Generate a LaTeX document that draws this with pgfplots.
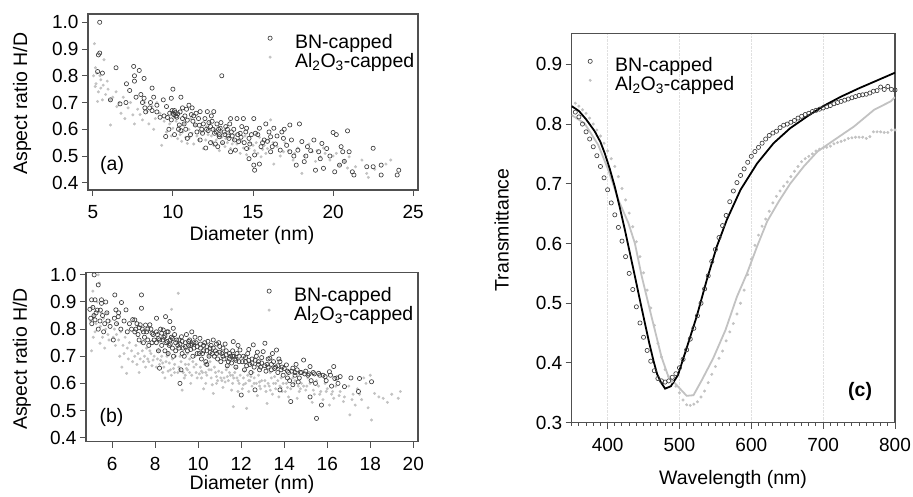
\documentclass[border=0pt]{standalone}
\usepackage{fontspec}
\setmainfont{Liberation Sans}
\usepackage{pgfplots}
\pgfplotsset{compat=1.18}

\definecolor{bnDark}{HTML}{3C3C3C}
\definecolor{alGray}{HTML}{C2C2C2}
\definecolor{frameGray}{HTML}{505050}

\pgfplotsset{
  panel/.style={
    scale only axis,
    anchor=south west,
    axis line style={frameGray, line width=1.1pt},
    tick align=outside,
    tick pos=left,
    major tick length=6pt,
    minor tick length=3pt,
    tick style={frameGray, line width=1pt},
    /pgf/number format/assume math mode=true,
    tick label style={font=\fontsize{19}{21}\selectfont},
    xticklabel style={yshift=-6pt},
    label style={font=\fontsize{19.5}{22}\selectfont},
    legend style={draw=none, fill=none, inner sep=0pt, row sep=2pt,
      font=\fontsize{19.5}{22}\selectfont,
      nodes={inner sep=0pt, text height=12.5pt, text depth=4.5pt}},
    legend cell align=left,
    legend image code/.code={
      \path[draw=none, fill=none] (0pt,0pt) -- (31pt,0pt);
      \draw[mark repeat=1,mark phase=1,##1] plot coordinates {(6pt,6pt)};},
  },
  ydec/.style={yticklabel style={/pgf/number format/.cd, fixed, fixed zerofill, precision=1}},
  bn/.style={only marks, mark=o, mark size=2.1pt, draw=bnDark, mark options={line width=0.65pt}},
  al/.style={only marks, mark=*, mark size=1.3pt, draw=alGray, fill=alGray},
}

\begin{document}
\begin{tikzpicture}
\useasboundingbox (0pt,0pt) rectangle (913pt,497pt);

% ---------------- (a) ----------------
\begin{axis}[panel, ydec, reverse legend,
  at={(88pt,307pt)}, width=330pt, height=176pt,
  xmin=4.7, xmax=25.3, ymin=0.373, ymax=1.031,
  xtick={5,10,15,20,25}, ytick={0.4,0.5,0.6,0.7,0.8,0.9,1.0},
  xlabel={Diameter (nm)}, ylabel={Aspect ratio H/D},
  xlabel style={at={(axis description cs:0.497,-0.256)}, anchor=center},
  ylabel style={at={(axis description cs:-0.2,0.49)}, anchor=center},
  legend style={at={(axis description cs:0.533,0.878)}, anchor=north west},
]
\addplot[al] coordinates {
(5.10,0.92) (5.17,0.83) (5.25,0.81) (5.50,0.785) (5.15,0.76) (5.50,0.754) (5.90,0.78) (5.60,0.71)
(5.30,0.704) (6.10,0.71) (6.45,0.74) (5.70,0.86) (5.05,0.80) (5.35,0.74) (5.80,0.73) (5.20,0.77)
(5.45,0.80) (5.95,0.75) (6.25,0.72) (5.65,0.765)
(6.65,0.70) (6.76,0.66) (7.20,0.68) (6.10,0.616) (7.50,0.654) (8.10,0.635) (8.40,0.666) (8.70,0.685)
(9.20,0.66) (9.30,0.54) (6.90,0.72) (7.35,0.70) (7.80,0.675) (8.25,0.70) (8.90,0.64) (7.00,0.64)
(7.60,0.62) (8.50,0.62) (9.00,0.70) (7.95,0.655) (6.50,0.685) (8.80,0.60) (9.45,0.63) (9.60,0.59)
(10.00,0.604) (10.60,0.59) (10.90,0.547) (11.20,0.585) (11.60,0.56) (11.90,0.528) (10.20,0.63) (10.40,0.61)
(9.80,0.62) (10.70,0.62) (11.00,0.60) (11.40,0.615) (11.80,0.59) (12.20,0.58) (10.30,0.565) (10.10,0.645)
(11.10,0.64) (11.50,0.575) (12.10,0.61) (9.90,0.575) (10.55,0.555) (11.30,0.545)
(10.45,0.58) (10.80,0.57) (11.05,0.57) (11.65,0.595) (12.05,0.56) (12.40,0.575) (12.55,0.54) (13.05,0.57)
(13.40,0.55) (13.70,0.545) (14.10,0.56) (14.40,0.53) (15.00,0.54) (15.30,0.51) (15.60,0.525)
(12.45,0.554) (13.10,0.547) (13.60,0.528) (12.60,0.60) (12.80,0.575) (13.00,0.59) (13.30,0.565) (13.80,0.56)
(12.30,0.625) (12.90,0.52) (13.50,0.59) (14.00,0.545) (14.20,0.51) (14.50,0.575) (14.75,0.528) (14.30,0.555)
(13.90,0.58) (14.80,0.55) (12.70,0.56) (13.25,0.535) (14.60,0.505)
(15.50,0.497) (15.90,0.528) (16.30,0.47) (16.10,0.635) (16.90,0.516) (15.20,0.55) (15.40,0.57) (15.70,0.54)
(16.00,0.56) (16.50,0.535) (17.00,0.55) (15.10,0.52) (16.70,0.50) (15.80,0.51) (16.25,0.55) (17.20,0.52)
(17.50,0.485) (18.05,0.435) (18.70,0.516) (19.20,0.497) (19.80,0.485) (17.80,0.53) (18.20,0.50) (18.50,0.545)
(19.00,0.52) (19.50,0.51) (17.60,0.51) (18.90,0.48) (19.40,0.53) (20.00,0.50)
(20.40,0.466) (21.00,0.497) (21.80,0.485) (22.10,0.435) (22.20,0.42) (23.30,0.47) (23.60,0.485) (20.20,0.51)
(20.70,0.48) (21.40,0.46) (20.90,0.455) (22.60,0.45)
};
\addplot[bn] coordinates {
(5.43,1.00) (5.43,0.885) (5.35,0.878) (5.30,0.816) (5.60,0.81) (6.45,0.83) (6.10,0.71) (6.70,0.695)
(7.07,0.70) (7.10,0.77) (7.55,0.835) (7.90,0.82) (7.60,0.80) (8.20,0.79) (7.60,0.78) (8.70,0.754)
(7.70,0.72) (8.20,0.716) (8.80,0.72) (8.10,0.70) (8.55,0.68) (9.00,0.69) (8.30,0.665) (8.70,0.67)
(9.00,0.665) (7.30,0.745) (8.00,0.73) (8.60,0.70) (8.25,0.68)
(9.40,0.71) (9.90,0.716) (10.00,0.75) (10.50,0.72) (9.60,0.685) (10.10,0.67) (10.20,0.65) (9.66,0.644)
(9.90,0.635) (9.20,0.645) (10.40,0.616) (10.90,0.634) (9.55,0.573) (10.10,0.58) (10.90,0.566) (10.00,0.66)
(10.05,0.655) (10.15,0.662) (10.25,0.645) (10.30,0.658) (9.80,0.66) (10.60,0.64) (10.70,0.62) (9.45,0.65)
(10.35,0.60) (10.80,0.60) (10.50,0.595) (9.75,0.60) (10.60,0.68) (10.85,0.675)
(9.95,0.67) (10.45,0.665) (10.75,0.65) (11.15,0.655) (11.45,0.66) (11.65,0.615) (12.10,0.60) (12.25,0.625)
(12.50,0.60) (12.70,0.59) (12.90,0.58) (13.00,0.625) (13.25,0.58) (13.45,0.575) (13.65,0.59) (13.85,0.56)
(14.05,0.58) (14.25,0.57) (14.55,0.59) (14.80,0.545) (15.30,0.58) (15.90,0.555) (16.20,0.535)
(11.00,0.69) (11.20,0.68) (11.70,0.666) (12.15,0.666) (12.55,0.666) (11.40,0.616) (11.90,0.62) (12.35,0.61)
(11.70,0.56) (12.35,0.55) (12.90,0.572) (12.05,0.53) (12.80,0.535) (12.95,0.604) (13.05,0.80) (11.30,0.65)
(11.60,0.64) (11.80,0.60) (12.00,0.64) (12.20,0.595) (12.45,0.63) (12.60,0.585) (12.75,0.62) (11.50,0.59)
(11.10,0.58) (12.40,0.65) (12.85,0.60) (11.85,0.585) (12.65,0.545) (11.25,0.63)
(13.30,0.61) (13.60,0.64) (14.00,0.64) (14.40,0.64) (13.80,0.60) (14.60,0.604) (13.50,0.566) (14.10,0.554)
(14.75,0.566) (13.60,0.516) (13.90,0.522) (14.60,0.528) (14.75,0.49) (13.20,0.59) (13.40,0.60) (13.70,0.575)
(14.20,0.585) (14.45,0.55) (13.10,0.55) (14.90,0.58) (13.55,0.62) (14.30,0.61)
(15.05,0.64) (15.40,0.604) (15.80,0.62) (16.30,0.604) (15.15,0.585) (15.70,0.56) (16.10,0.572) (16.80,0.59)
(16.90,0.566) (15.10,0.504) (15.50,0.535) (16.10,0.516) (16.70,0.522) (15.05,0.466) (15.40,0.47) (15.10,0.447)
(15.60,0.55) (16.40,0.545) (16.00,0.59) (16.50,0.575) (16.95,0.60)
(17.30,0.616) (17.40,0.56) (18.05,0.554) (18.80,0.56) (17.30,0.516) (17.80,0.522) (18.40,0.535) (17.70,0.466)
(18.20,0.479) (18.90,0.447) (17.10,0.54) (17.90,0.62) (18.60,0.52) (17.55,0.50) (18.30,0.50)
(19.30,0.547) (20.00,0.588) (20.20,0.58) (20.90,0.594) (19.10,0.516) (19.60,0.528) (20.50,0.535) (20.60,0.516)
(21.00,0.516) (19.40,0.454) (20.10,0.441) (20.40,0.466) (21.20,0.441) (21.30,0.429) (22.10,0.46) (22.50,0.46)
(22.50,0.529) (23.00,0.466) (23.00,0.429) (24.00,0.429) (24.10,0.447) (19.80,0.50) (20.70,0.48) (19.20,0.49)
};
\legend{Al\textsubscript{2}O\textsubscript{3}-capped, BN-capped}
\node[font=\fontsize{19.5}{22}\selectfont] at (axis description cs:0.073,0.142) {(a)};
\end{axis}

% ---------------- (b) ----------------
\begin{axis}[panel, ydec, reverse legend,
  at={(86pt,55.3pt)}, width=332pt, height=169pt,
  xmin=4.78, xmax=20.22, ymin=0.385, ymax=1.008,
  xtick={6,8,10,12,14,16,18,20}, ytick={0.4,0.5,0.6,0.7,0.8,0.9,1.0},
  xlabel={Diameter (nm)}, ylabel={Aspect ratio H/D},
  xlabel style={at={(axis description cs:0.5,-0.255)}, anchor=center},
  ylabel style={at={(axis description cs:-0.193,0.49)}, anchor=center},
  legend style={at={(axis description cs:0.533,0.907)}, anchor=north west},
]
\addplot[al] coordinates {
(5.35,1.00) (5.10,0.94) (5.40,0.97) (5.04,0.72) (5.43,0.748) (5.80,0.78) (5.05,0.88) (5.15,0.85)
(5.25,0.82) (5.30,0.90) (5.50,0.86) (5.60,0.84) (5.70,0.80) (5.90,0.83) (5.20,0.79) (5.45,0.81)
(5.00,0.83) (5.55,0.77) (5.75,0.86) (5.85,0.76) (5.12,0.77) (5.65,0.73)
(6.67,0.637) (6.10,0.80) (6.20,0.78) (6.30,0.76) (6.40,0.79) (6.50,0.74) (6.60,0.77) (6.80,0.75)
(6.90,0.72) (6.15,0.74) (6.35,0.70) (6.55,0.71) (6.75,0.69) (6.25,0.82) (6.95,0.68) (6.45,0.66)
(7.90,0.686) (7.10,0.74) (7.20,0.71) (7.30,0.69) (7.40,0.72) (7.50,0.70) (7.60,0.73) (7.70,0.68)
(7.80,0.71) (7.15,0.67) (7.35,0.75) (7.55,0.66) (7.75,0.72) (7.95,0.70) (7.25,0.64) (7.65,0.69)
(9.07,0.932) (8.76,0.873) (8.10,0.69) (8.20,0.67) (8.30,0.70) (8.40,0.66) (8.50,0.68) (8.60,0.71)
(8.70,0.65) (8.80,0.69) (8.90,0.67) (8.15,0.72) (8.35,0.64) (8.55,0.70) (8.75,0.63) (8.95,0.70)
(8.25,0.685) (8.65,0.675) (8.45,0.62) (8.85,0.655)
(9.10,0.66) (9.20,0.68) (9.30,0.64) (9.40,0.67) (9.50,0.65) (9.60,0.69) (9.70,0.63) (9.80,0.66)
(9.90,0.64) (9.15,0.70) (9.35,0.62) (9.55,0.67) (9.75,0.68) (9.95,0.62) (9.25,0.575) (9.65,0.60)
(9.45,0.655) (9.85,0.70) (9.05,0.64) (9.50,0.71)
(10.70,0.563) (10.10,0.66) (10.20,0.64) (10.30,0.67) (10.40,0.63) (10.50,0.65) (10.60,0.62) (10.80,0.64)
(10.90,0.61) (10.15,0.62) (10.35,0.60) (10.55,0.68) (10.75,0.66) (10.95,0.645) (10.25,0.58) (10.45,0.665)
(10.65,0.595) (10.85,0.625) (10.05,0.635) (10.50,0.70)
(11.63,0.514) (11.10,0.64) (11.20,0.62) (11.30,0.65) (11.40,0.61) (11.50,0.63) (11.60,0.60) (11.70,0.64)
(11.80,0.62) (11.90,0.60) (11.15,0.585) (11.35,0.66) (11.55,0.575) (11.75,0.655) (11.95,0.63) (11.25,0.605)
(11.45,0.64) (11.85,0.57) (11.05,0.62) (11.65,0.62)
(12.25,0.508) (12.10,0.62) (12.20,0.60) (12.30,0.63) (12.40,0.61) (12.50,0.59) (12.60,0.62) (12.70,0.60)
(12.80,0.63) (12.90,0.58) (12.15,0.645) (12.35,0.57) (12.55,0.64) (12.75,0.555) (12.95,0.61) (12.45,0.625)
(12.85,0.605) (12.05,0.58)
(13.20,0.526) (13.10,0.61) (13.30,0.59) (13.40,0.62) (13.50,0.60) (13.60,0.58) (13.70,0.61) (13.80,0.59)
(13.90,0.57) (13.15,0.57) (13.35,0.64) (13.55,0.625) (13.75,0.55) (13.95,0.60) (13.45,0.56) (13.85,0.62)
(13.25,0.60)
(14.10,0.60) (14.30,0.58) (14.50,0.61) (14.70,0.57) (14.90,0.59) (14.20,0.55) (14.40,0.62) (14.60,0.545)
(14.80,0.60) (15.00,0.575) (15.20,0.60) (15.40,0.56) (15.60,0.59) (15.80,0.54) (15.10,0.62) (15.30,0.53)
(15.50,0.61) (15.70,0.57) (15.90,0.60) (14.05,0.57) (14.65,0.59) (16.00,0.58) (16.20,0.56) (16.40,0.59)
(16.10,0.52) (16.30,0.545) (16.60,0.57) (16.80,0.55)
(16.75,0.533) (17.05,0.484) (18.06,0.465) (18.60,0.545) (19.40,0.57) (19.30,0.545) (18.20,0.563) (18.00,0.63)
(17.20,0.56) (17.40,0.58) (17.60,0.54) (17.80,0.60) (17.70,0.62) (18.40,0.55) (17.00,0.59) (17.30,0.52)
(18.80,0.53) (19.00,0.56) (17.90,0.51)
(6.05,0.77) (6.70,0.73) (7.05,0.70) (7.45,0.68) (7.85,0.665) (8.05,0.66) (8.35,0.675) (8.60,0.645)
(8.90,0.64) (9.15,0.65) (9.40,0.63) (9.60,0.64) (9.90,0.67) (10.15,0.645) (10.35,0.64) (10.60,0.65)
(10.85,0.60) (11.10,0.61) (11.35,0.625) (11.60,0.63) (11.85,0.61) (12.10,0.595) (12.35,0.61) (12.60,0.60)
(12.85,0.59) (13.10,0.59) (13.35,0.575) (13.60,0.60) (13.85,0.585) (14.15,0.585) (14.45,0.60) (14.75,0.58)
(15.05,0.59) (15.35,0.575) (15.65,0.56) (15.95,0.57) (16.25,0.57) (16.55,0.555) (17.15,0.54) (17.50,0.56)
};
\addplot[bn] coordinates {
(5.16,1.00) (5.35,0.963) (5.04,0.908) (5.20,0.908) (5.50,0.908) (4.96,0.873) (5.20,0.834) (5.43,0.83)
(5.60,0.79) (5.10,0.88) (5.30,0.87) (5.00,0.84) (5.25,0.86) (5.45,0.87) (5.55,0.85) (5.70,0.90)
(5.80,0.83) (5.90,0.81) (5.05,0.82) (5.35,0.80) (5.65,0.82) (5.15,0.85) (5.50,0.895) (5.75,0.86)
(6.12,0.926) (6.43,0.898) (6.17,0.871) (6.28,0.846) (6.05,0.76) (6.64,0.871) (6.20,0.82) (6.40,0.80)
(6.55,0.83) (6.80,0.82) (6.90,0.80) (6.30,0.86) (6.70,0.79) (6.95,0.835) (6.10,0.84)
(7.36,0.926) (7.36,0.877) (7.05,0.834) (7.30,0.816) (7.75,0.816) (7.60,0.79) (7.90,0.78) (7.10,0.80)
(7.20,0.78) (7.40,0.80) (7.50,0.77) (7.65,0.76) (7.80,0.80) (7.95,0.76) (7.15,0.82) (7.45,0.75)
(7.70,0.74) (7.25,0.76) (7.55,0.815) (7.85,0.75)
(8.06,0.84) (8.48,0.846) (8.37,0.797) (8.68,0.828) (8.84,0.803) (8.20,0.656) (8.10,0.78) (8.20,0.76)
(8.30,0.74) (8.40,0.77) (8.50,0.75) (8.60,0.79) (8.70,0.76) (8.80,0.73) (8.90,0.78) (8.15,0.72)
(8.25,0.80) (8.45,0.72) (8.55,0.79) (8.65,0.74) (8.75,0.77) (8.95,0.75) (8.35,0.76) (8.05,0.75)
(8.85,0.70) (8.60,0.71) (8.95,0.72)
(9.22,0.772) (9.70,0.79) (9.15,0.60) (9.20,0.65) (9.05,0.74) (9.10,0.76) (9.30,0.73) (9.40,0.75)
(9.50,0.72) (9.60,0.76) (9.80,0.73) (9.90,0.75) (9.35,0.70) (9.55,0.74) (9.75,0.70) (9.45,0.78)
(9.85,0.77) (9.25,0.71) (9.65,0.725) (9.95,0.71) (9.15,0.745) (9.70,0.745)
(10.08,0.766) (10.70,0.76) (11.00,0.736) (10.10,0.73) (10.20,0.71) (10.30,0.75) (10.40,0.72) (10.50,0.70)
(10.60,0.74) (10.80,0.72) (10.90,0.69) (10.15,0.69) (10.35,0.68) (10.55,0.73) (10.75,0.70) (10.95,0.75)
(10.25,0.74) (10.45,0.755) (10.65,0.71) (10.85,0.745) (10.05,0.71) (10.40,0.67)
(11.63,0.754) (11.94,0.723) (12.00,0.557) (11.10,0.71) (11.20,0.69) (11.30,0.72) (11.40,0.68) (11.50,0.70)
(11.60,0.72) (11.70,0.69) (11.80,0.71) (11.90,0.68) (11.15,0.73) (11.35,0.665) (11.55,0.675) (11.75,0.66)
(11.85,0.74) (11.25,0.745) (11.45,0.71) (11.05,0.68) (11.65,0.70)
(12.56,0.742) (12.64,0.576) (12.10,0.70) (12.20,0.68) (12.30,0.71) (12.40,0.67) (12.50,0.69) (12.60,0.66)
(12.70,0.70) (12.80,0.68) (12.90,0.66) (12.15,0.65) (12.35,0.725) (12.75,0.715) (12.85,0.65) (12.45,0.64)
(12.25,0.665) (12.95,0.695)
(13.10,0.748) (13.02,0.717) (13.33,0.693) (13.80,0.68) (13.64,0.723) (13.80,0.576) (13.20,0.67) (13.40,0.65)
(13.50,0.68) (13.60,0.66) (13.70,0.64) (13.90,0.66) (13.15,0.645) (13.45,0.71) (13.25,0.69) (13.75,0.69)
(13.95,0.63)
(14.10,0.668) (14.40,0.656) (14.90,0.686) (14.30,0.533) (14.20,0.64) (14.50,0.63) (14.60,0.65) (14.70,0.62)
(14.80,0.64) (14.25,0.61) (14.55,0.67) (14.95,0.635) (14.15,0.62) (14.65,0.605) (14.40,0.595)
(15.20,0.662) (15.60,0.637) (16.10,0.643) (16.30,0.662) (16.35,0.618) (16.80,0.588) (17.50,0.618) (18.06,0.606)
(17.45,0.57) (15.73,0.52) (15.50,0.471) (15.20,0.55) (15.10,0.63) (15.35,0.64) (15.45,0.60) (15.80,0.63)
(15.95,0.61) (16.50,0.60) (16.20,0.59) (15.25,0.61) (16.60,0.625) (17.10,0.62)
(7.05,0.79) (7.25,0.805) (7.45,0.79) (7.65,0.80) (7.85,0.785) (8.05,0.79) (8.15,0.765) (8.30,0.785)
(8.45,0.775) (8.55,0.755) (8.70,0.745) (8.80,0.765) (9.00,0.76) (9.10,0.73) (9.25,0.755) (9.40,0.735)
(9.55,0.755) (9.65,0.74) (9.80,0.75) (9.95,0.735) (10.10,0.745) (10.25,0.72) (10.40,0.735) (10.55,0.715)
(10.70,0.73) (10.85,0.71) (11.00,0.715) (11.15,0.70) (11.30,0.705) (11.45,0.69) (11.60,0.70) (11.75,0.685)
(11.90,0.70) (12.05,0.68) (12.20,0.695) (12.35,0.685) (12.50,0.675) (12.65,0.685) (12.80,0.67) (12.95,0.675)
(13.10,0.665) (13.25,0.66) (13.40,0.67) (13.55,0.655) (13.70,0.665) (13.85,0.65) (14.00,0.655) (14.15,0.645)
(14.35,0.645) (14.50,0.64) (14.75,0.64) (15.00,0.645) (15.15,0.635) (15.40,0.635) (15.65,0.63) (15.90,0.625)
(16.15,0.63) (16.45,0.62)
};
\legend{Al\textsubscript{2}O\textsubscript{3}-capped, BN-capped}
\node[font=\fontsize{19.5}{22}\selectfont] at (axis description cs:0.077,0.146) {(b)};
\end{axis}

% ---------------- (c) ----------------
\begin{axis}[panel, ydec,
  at={(571.7pt,74.3pt)}, width=323.3pt, height=389.4pt,
  xmin=350, xmax=800, ymin=0.3, ymax=0.952,
  xtick={400,500,600,700,800}, minor xtick={350,360,...,800},
  ytick={0.3,0.4,0.5,0.6,0.7,0.8,0.9},
  xmajorgrids, major grid style={densely dotted, black!12, line width=0.8pt},
  xlabel={Wavelength (nm)}, ylabel={Transmittance},
  xlabel style={at={(axis description cs:0.499,-0.146)}, anchor=center},
  ylabel style={at={(axis description cs:-0.2165,0.495)}, anchor=center},
  legend style={at={(axis description cs:0.038,0.935)}, anchor=north west},
]
\addplot[bn] coordinates {
(355,0.820) (360,0.812) (365,0.800) (370,0.787) (375,0.775) (380,0.762) (385,0.747) (390,0.729)
(395,0.710) (400,0.690) (405,0.668) (410,0.648) (415,0.627) (420,0.604) (425,0.578) (430,0.550)
(435,0.523) (440,0.494) (445,0.467) (450,0.443) (455,0.421) (460,0.403) (465,0.387) (470,0.374)
(475,0.370) (480,0.368) (485,0.370) (490,0.376) (495,0.382) (500,0.392) (505,0.406) (510,0.422)
(515,0.440) (520,0.458) (525,0.479) (530,0.500) (535,0.524) (540,0.546) (545,0.570) (550,0.590)
(555,0.610) (560,0.630) (565,0.647) (570,0.670) (575,0.688) (580,0.702) (585,0.714) (590,0.725)
(595,0.736) (600,0.746) (605,0.754) (610,0.761) (615,0.768) (620,0.775) (625,0.781) (630,0.785)
(635,0.788) (640,0.794) (645,0.798) (650,0.800) (655,0.803) (660,0.806) (665,0.810) (670,0.813)
(675,0.816) (680,0.818) (685,0.821) (690,0.823) (695,0.825) (700,0.827) (705,0.829) (710,0.831)
(715,0.834) (720,0.836) (725,0.838) (730,0.840) (735,0.842) (740,0.844) (745,0.846) (750,0.848)
(755,0.849) (760,0.850) (765,0.852) (770,0.855) (775,0.856) (780,0.862) (785,0.858) (790,0.863)
(795,0.858) (800,0.857)
};
\addplot[al] coordinates {
(355,0.835) (360,0.830) (365,0.824) (370,0.818) (375,0.810) (380,0.800) (385,0.790) (390,0.780)
(395,0.768) (400,0.755) (405,0.742) (410,0.729) (415,0.712) (420,0.692) (425,0.673) (430,0.651)
(435,0.628) (440,0.603) (445,0.578) (450,0.551) (455,0.522) (460,0.492) (465,0.463) (470,0.433)
(475,0.410) (480,0.389) (485,0.377) (490,0.369) (495,0.361) (500,0.350) (505,0.338) (510,0.330)
(515,0.329) (520,0.331) (525,0.335) (530,0.343) (535,0.353) (540,0.367) (545,0.381) (550,0.394)
(555,0.408) (560,0.420) (565,0.437) (570,0.452) (575,0.466) (580,0.482) (585,0.500) (590,0.522)
(595,0.548) (600,0.574) (605,0.597) (610,0.614) (615,0.629) (620,0.641) (625,0.654) (630,0.668)
(635,0.679) (640,0.688) (645,0.696) (650,0.703) (655,0.712) (660,0.721) (665,0.729) (670,0.737)
(675,0.742) (680,0.746) (685,0.750) (690,0.755) (695,0.758) (700,0.760) (705,0.761) (710,0.763)
(715,0.767) (720,0.769) (725,0.771) (730,0.773) (735,0.776) (740,0.777) (745,0.778) (750,0.778)
(755,0.778) (760,0.776) (765,0.779) (770,0.787) (775,0.787) (780,0.787) (785,0.786) (790,0.786)
(795,0.790) (800,0.790)
};
\addplot[alGray, line width=1.8pt, no marks, forget plot] coordinates {
(350,0.815) (368,0.801) (387,0.765) (401,0.723) (415,0.673) (429,0.634) (438,0.600) (447.5,0.545)
(461,0.478) (475,0.410) (484.6,0.377) (496,0.363) (510,0.345) (519.5,0.346) (531,0.371) (547,0.408)
(564,0.455) (580,0.511) (594,0.550) (608,0.595) (622,0.637) (638,0.670) (654,0.700) (673,0.729)
(692,0.754) (715,0.773) (743,0.796) (771,0.824) (794,0.838) (800,0.845)
};
\addplot[black, line width=1.8pt, no marks, forget plot] coordinates {
(350,0.830) (360,0.822) (370,0.808) (382,0.788) (390,0.770) (396,0.751) (403,0.725) (410,0.695)
(417,0.660) (424,0.623) (431,0.584) (438,0.545) (445,0.505) (452,0.466) (458,0.433) (464,0.403)
(469,0.381) (474,0.368) (480,0.357) (488,0.361) (498,0.380) (510,0.425) (524,0.478) (538,0.539)
(552,0.595) (566,0.640) (585,0.690) (608,0.734) (631,0.768) (654,0.793) (678,0.813) (700,0.830)
(725,0.846) (750,0.860) (775,0.873) (800,0.886)
};
\legend{BN-capped, Al\textsubscript{2}O\textsubscript{3}-capped}
\node[font=\bfseries\fontsize{19.5}{22}\selectfont] at (axis description cs:0.892,0.081) {(c)};
\end{axis}
\end{tikzpicture}
\end{document}
